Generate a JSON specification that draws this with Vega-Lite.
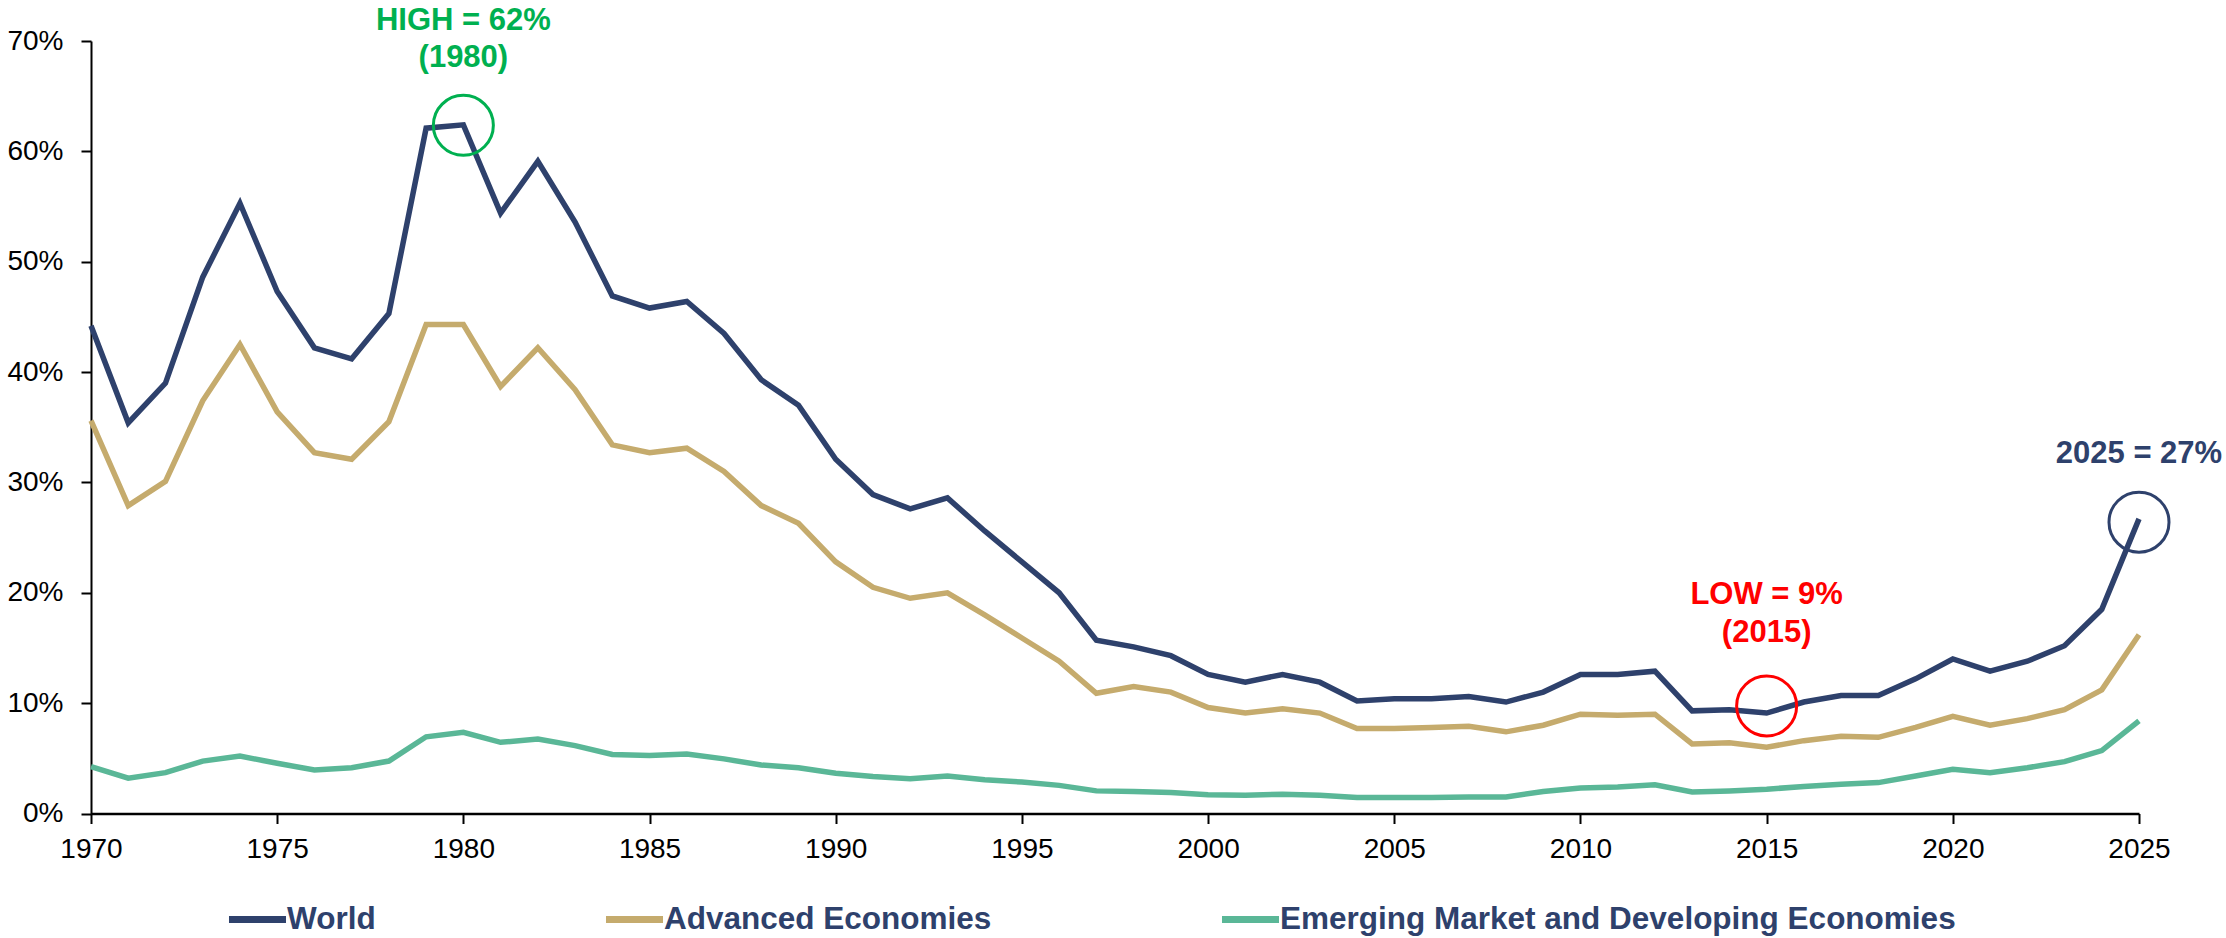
{
  "$schema": "https://vega.github.io/schema/vega-lite/v6.json",
  "autosize": {"type": "none"},
  "padding": {"left": 91, "top": 41, "right": 87, "bottom": 124.5},
  "width": 2048,
  "height": 772.5,
  "background": "white",
  "config": {
    "view": {"stroke": null},
    "font": "Liberation Sans",
    "axis": {"grid": false, "domainColor": "black", "tickColor": "black", "labelColor": "black", "labelFont": "Liberation Sans", "labelFontSize": 28, "tickSize": 10, "tickWidth": 2, "domainWidth": 2.5, "title": null}
  },
  "datasets": {
    "series": [
      {"year": 1970, "World": 44.2, "Advanced Economies": 35.6, "Emerging Market and Developing Economies": 4.25},
      {"year": 1971, "World": 35.4, "Advanced Economies": 27.9, "Emerging Market and Developing Economies": 3.2},
      {"year": 1972, "World": 39.0, "Advanced Economies": 30.1, "Emerging Market and Developing Economies": 3.7},
      {"year": 1973, "World": 48.6, "Advanced Economies": 37.4, "Emerging Market and Developing Economies": 4.75},
      {"year": 1974, "World": 55.3, "Advanced Economies": 42.5, "Emerging Market and Developing Economies": 5.2},
      {"year": 1975, "World": 47.3, "Advanced Economies": 36.4, "Emerging Market and Developing Economies": 4.55},
      {"year": 1976, "World": 42.2, "Advanced Economies": 32.7, "Emerging Market and Developing Economies": 3.95},
      {"year": 1977, "World": 41.2, "Advanced Economies": 32.1, "Emerging Market and Developing Economies": 4.15},
      {"year": 1978, "World": 45.3, "Advanced Economies": 35.5, "Emerging Market and Developing Economies": 4.75},
      {"year": 1979, "World": 62.1, "Advanced Economies": 44.3, "Emerging Market and Developing Economies": 6.95},
      {"year": 1980, "World": 62.4, "Advanced Economies": 44.3, "Emerging Market and Developing Economies": 7.35},
      {"year": 1981, "World": 54.4, "Advanced Economies": 38.7, "Emerging Market and Developing Economies": 6.45},
      {"year": 1982, "World": 59.1, "Advanced Economies": 42.2, "Emerging Market and Developing Economies": 6.75},
      {"year": 1983, "World": 53.6, "Advanced Economies": 38.4, "Emerging Market and Developing Economies": 6.15},
      {"year": 1984, "World": 46.9, "Advanced Economies": 33.4, "Emerging Market and Developing Economies": 5.35},
      {"year": 1985, "World": 45.8, "Advanced Economies": 32.7, "Emerging Market and Developing Economies": 5.25},
      {"year": 1986, "World": 46.4, "Advanced Economies": 33.1, "Emerging Market and Developing Economies": 5.4},
      {"year": 1987, "World": 43.5, "Advanced Economies": 31.0, "Emerging Market and Developing Economies": 4.95},
      {"year": 1988, "World": 39.3, "Advanced Economies": 27.9, "Emerging Market and Developing Economies": 4.4},
      {"year": 1989, "World": 37.0, "Advanced Economies": 26.3, "Emerging Market and Developing Economies": 4.15},
      {"year": 1990, "World": 32.1, "Advanced Economies": 22.8, "Emerging Market and Developing Economies": 3.65},
      {"year": 1991, "World": 28.9, "Advanced Economies": 20.5, "Emerging Market and Developing Economies": 3.35},
      {"year": 1992, "World": 27.6, "Advanced Economies": 19.5, "Emerging Market and Developing Economies": 3.15},
      {"year": 1993, "World": 28.6, "Advanced Economies": 20.0, "Emerging Market and Developing Economies": 3.4},
      {"year": 1994, "World": 25.6, "Advanced Economies": 18.0, "Emerging Market and Developing Economies": 3.05},
      {"year": 1995, "World": 22.8, "Advanced Economies": 15.9, "Emerging Market and Developing Economies": 2.85},
      {"year": 1996, "World": 20.0, "Advanced Economies": 13.8, "Emerging Market and Developing Economies": 2.55},
      {"year": 1997, "World": 15.7, "Advanced Economies": 10.9, "Emerging Market and Developing Economies": 2.05},
      {"year": 1998, "World": 15.1, "Advanced Economies": 11.5, "Emerging Market and Developing Economies": 2.0},
      {"year": 1999, "World": 14.3, "Advanced Economies": 11.0, "Emerging Market and Developing Economies": 1.9},
      {"year": 2000, "World": 12.6, "Advanced Economies": 9.6, "Emerging Market and Developing Economies": 1.7},
      {"year": 2001, "World": 11.9, "Advanced Economies": 9.1, "Emerging Market and Developing Economies": 1.65},
      {"year": 2002, "World": 12.6, "Advanced Economies": 9.5, "Emerging Market and Developing Economies": 1.75},
      {"year": 2003, "World": 11.9, "Advanced Economies": 9.1, "Emerging Market and Developing Economies": 1.65},
      {"year": 2004, "World": 10.2, "Advanced Economies": 7.7, "Emerging Market and Developing Economies": 1.45},
      {"year": 2005, "World": 10.4, "Advanced Economies": 7.7, "Emerging Market and Developing Economies": 1.45},
      {"year": 2006, "World": 10.4, "Advanced Economies": 7.8, "Emerging Market and Developing Economies": 1.45},
      {"year": 2007, "World": 10.6, "Advanced Economies": 7.9, "Emerging Market and Developing Economies": 1.5},
      {"year": 2008, "World": 10.1, "Advanced Economies": 7.4, "Emerging Market and Developing Economies": 1.5},
      {"year": 2009, "World": 11.0, "Advanced Economies": 8.0, "Emerging Market and Developing Economies": 2.0},
      {"year": 2010, "World": 12.6, "Advanced Economies": 9.0, "Emerging Market and Developing Economies": 2.3},
      {"year": 2011, "World": 12.6, "Advanced Economies": 8.9, "Emerging Market and Developing Economies": 2.4},
      {"year": 2012, "World": 12.9, "Advanced Economies": 9.0, "Emerging Market and Developing Economies": 2.6},
      {"year": 2013, "World": 9.3, "Advanced Economies": 6.3, "Emerging Market and Developing Economies": 1.95},
      {"year": 2014, "World": 9.4, "Advanced Economies": 6.4, "Emerging Market and Developing Economies": 2.05},
      {"year": 2015, "World": 9.1, "Advanced Economies": 6.0, "Emerging Market and Developing Economies": 2.2},
      {"year": 2016, "World": 10.1, "Advanced Economies": 6.6, "Emerging Market and Developing Economies": 2.45},
      {"year": 2017, "World": 10.7, "Advanced Economies": 7.0, "Emerging Market and Developing Economies": 2.65},
      {"year": 2018, "World": 10.7, "Advanced Economies": 6.9, "Emerging Market and Developing Economies": 2.8},
      {"year": 2019, "World": 12.2, "Advanced Economies": 7.8, "Emerging Market and Developing Economies": 3.4},
      {"year": 2020, "World": 14.0, "Advanced Economies": 8.8, "Emerging Market and Developing Economies": 4.0},
      {"year": 2021, "World": 12.9, "Advanced Economies": 8.0, "Emerging Market and Developing Economies": 3.7},
      {"year": 2022, "World": 13.8, "Advanced Economies": 8.6, "Emerging Market and Developing Economies": 4.15},
      {"year": 2023, "World": 15.2, "Advanced Economies": 9.4, "Emerging Market and Developing Economies": 4.7},
      {"year": 2024, "World": 18.5, "Advanced Economies": 11.2, "Emerging Market and Developing Economies": 5.7},
      {"year": 2025, "World": 26.7, "Advanced Economies": 16.2, "Emerging Market and Developing Economies": 8.4}
    ],
    "circles": [
      {"year": 1980, "value": 62.36, "kind": "High"},
      {"year": 2015, "value": 9.75, "kind": "Low"},
      {"year": 2025, "value": 26.4, "kind": "Latest"}
    ],
    "notes": [
      {"year": 1980, "value": 71.03, "label": "HIGH = 62%", "kind": "High"},
      {"year": 1980, "value": 67.65, "label": "(1980)", "kind": "High"},
      {"year": 2015, "value": 18.98, "label": "LOW = 9%", "kind": "Low"},
      {"year": 2015, "value": 15.56, "label": "(2015)", "kind": "Low"},
      {"year": 2025, "value": 31.78, "label": "2025 = 27%", "kind": "Latest"}
    ]
  },
  "resolve": {"scale": {"color": "independent"}},
  "layer": [
    {
      "data": {"name": "series"},
      "transform": [{"fold": ["World", "Advanced Economies", "Emerging Market and Developing Economies"], "as": ["series", "value"]}],
      "mark": {"type": "line", "strokeWidth": 5.5, "clip": false},
      "encoding": {
        "x": {"field": "year", "type": "quantitative", "scale": {"domain": [1970, 2025], "nice": false, "zero": false},
              "axis": {"values": [1970, 1975, 1980, 1985, 1990, 1995, 2000, 2005, 2010, 2015, 2020, 2025], "format": "d", "labelFlush": false, "labelOverlap": false, "labelPadding": 12}},
        "y": {"field": "value", "type": "quantitative", "scale": {"domain": [0, 70], "nice": false},
              "axis": {"values": [0, 10, 20, 30, 40, 50, 60, 70], "labelExpr": "datum.value + '%'", "labelPadding": 18, "domainWidth": 2}},
        "color": {"field": "series", "type": "nominal",
                  "scale": {"domain": ["World", "Advanced Economies", "Emerging Market and Developing Economies"], "range": ["#2E416C", "#C5AB6D", "#5AB797"]},
                  "legend": {"orient": "none", "legendX": 134, "legendY": 846, "direction": "horizontal", "title": null, "padding": 0,
                             "symbolType": "stroke", "symbolSize": 3250, "symbolStrokeWidth": 7, "labelFont": "Liberation Sans", "labelFontSize": 31.5,
                             "labelFontWeight": "bold", "labelColor": "#2E416C", "labelOffset": -3, "columnPadding": 215, "labelLimit": 2000}},
        "detail": {"field": "series"}
      }
    },
    {
      "data": {"name": "circles"},
      "mark": {"type": "point", "shape": "circle", "filled": false, "strokeWidth": 3, "size": 3600, "opacity": 1, "clip": false},
      "encoding": {
        "x": {"field": "year", "type": "quantitative"},
        "y": {"field": "value", "type": "quantitative"},
        "color": {"field": "kind", "type": "nominal", "scale": {"domain": ["High", "Low", "Latest"], "range": ["#00B050", "#FF0000", "#2E416C"]}, "legend": null}
      }
    },
    {
      "data": {"name": "notes"},
      "mark": {"type": "text", "font": "Liberation Sans", "fontSize": 31, "fontWeight": "bold", "align": "center", "baseline": "alphabetic", "clip": false},
      "encoding": {
        "x": {"field": "year", "type": "quantitative"},
        "y": {"field": "value", "type": "quantitative"},
        "text": {"field": "label"},
        "color": {"field": "kind", "type": "nominal", "scale": {"domain": ["High", "Low", "Latest"], "range": ["#00B050", "#FF0000", "#2E416C"]}, "legend": null}
      }
    }
  ]
}
